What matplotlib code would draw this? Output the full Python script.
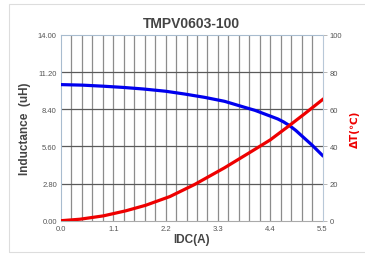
import matplotlib
matplotlib.use('Agg')
import matplotlib.pyplot as plt
import numpy as np
from matplotlib.patches import Rectangle

# data
idc_l = [0.0, 0.45, 0.89, 1.3, 1.73, 2.2, 2.6, 3.02, 3.44, 3.86, 4.08, 4.28, 4.45,
         4.56, 4.68, 4.81, 4.94, 5.06, 5.28, 5.5]
induct = [10.26, 10.22, 10.14, 10.05, 9.93, 9.76, 9.55, 9.3, 9.0, 8.55, 8.32, 8.05, 7.82,
          7.67, 7.45, 7.16, 6.8, 6.41, 5.7, 4.92]

idc_t = [0.0, 0.4, 0.89, 1.36, 1.78, 2.29, 2.81, 3.44, 4.0, 4.4, 4.77, 5.12, 5.5]
temp = [0.0, 0.8, 2.6, 5.3, 8.3, 13.0, 19.5, 28.5, 37.2, 43.5, 50.6, 57.5, 65.2]

x_ticks = [0.0, 1.1, 2.2, 3.3, 4.4, 5.5]
l_ticks = [0.0, 2.8, 5.6, 8.4, 11.2, 14.0]
t_ticks = [0, 20, 40, 60, 80, 100]

plt.rcParams['font.family'] = ['Liberation Sans', 'DejaVu Sans']

fig = plt.figure(figsize=(3.65, 2.55), dpi=100)
fig.patches.append(Rectangle((9 / 365, 2 / 255), 1.0, 248 / 255, transform=fig.transFigure,
                             fill=False, edgecolor='#dddddd', linewidth=0.8))
ax = fig.add_axes([61 / 365, 1 - 221.7 / 255, 261.5 / 365, 185.7 / 255])
ax2 = ax.twinx()

# grid
for xv in np.arange(0.22, 5.5, 0.22):
    ax.axvline(xv, color='#8c8c8c', linewidth=0.9, zorder=1)
for yv in l_ticks[1:-1]:
    ax.axhline(yv, color='#5a5a5a', linewidth=0.9, zorder=1)

ax.plot(idc_l, induct, color='#0000ee', linewidth=2.3, zorder=3, solid_joinstyle='round')
ax2.plot(idc_t, temp, color='#ee0000', linewidth=2.3, zorder=3, solid_joinstyle='round')

ax.set_xlim(0, 5.5)
ax.set_ylim(0, 14)
ax2.set_ylim(0, 100)

ax.set_xticks(x_ticks)
ax.set_xticklabels(['%.1f' % v for v in x_ticks])
ax.set_yticks(l_ticks)
ax.set_yticklabels(['%.2f' % v for v in l_ticks])
ax2.set_yticks(t_ticks)
ax2.set_yticklabels([str(v) for v in t_ticks])

ax.tick_params(axis='both', labelsize=5.5, colors='#555555', length=0, pad=3)
ax2.tick_params(axis='y', labelsize=5.5, colors='#555555', length=3, width=0.6, pad=2)
ax2.tick_params(axis='y', color='#aaaaaa')

for s in ['left', 'top']:
    ax.spines[s].set_color('#a8bccf')
    ax2.spines[s].set_visible(False)
ax.spines['bottom'].set_color('#aaaaaa')
ax.spines['right'].set_visible(False)
ax2.spines['bottom'].set_visible(False)
ax2.spines['right'].set_color('#b8c8d8')

ax.set_xlabel('IDC(A)', fontsize=8.5, fontweight='bold', color='#444444', labelpad=1)
ax.set_ylabel('Inductance  (uH)', fontsize=8.5, fontweight='bold', color='#444444', labelpad=5)
ax2.set_ylabel('ΔT(℃)', fontsize=7.5, fontweight='bold', color='#ee0000', labelpad=6,
               family=['DejaVu Sans'])
ax.set_title('TMPV0603-100', fontsize=10, fontweight='bold', color='#444444', pad=6)

fig.savefig('out.png', dpi=100)
